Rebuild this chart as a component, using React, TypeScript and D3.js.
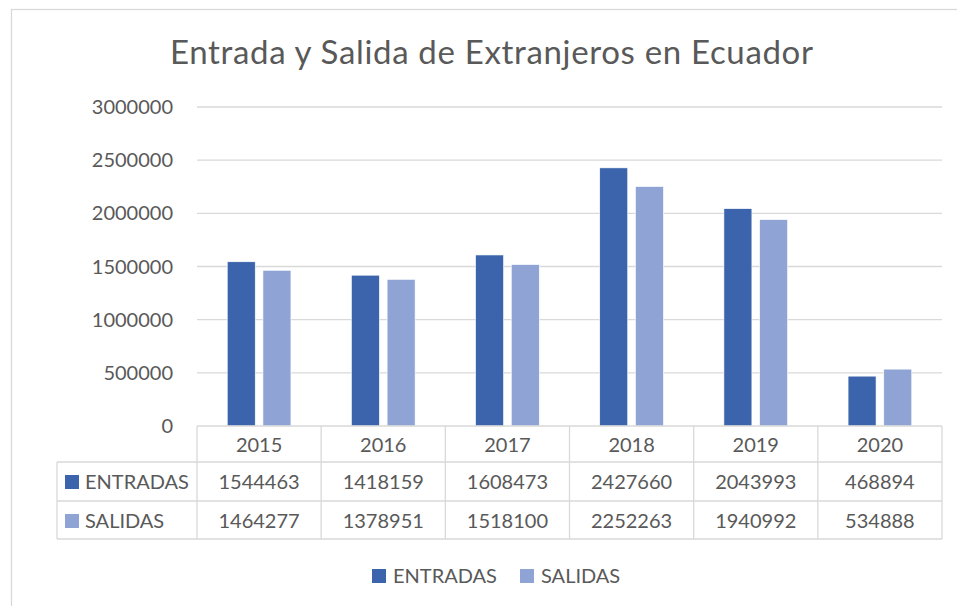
import React from 'react';
import { scaleBand, scaleLinear } from 'd3';

const years = ['2015', '2016', '2017', '2018', '2019', '2020'];
const entradas = [1544463, 1418159, 1608473, 2427660, 2043993, 468894];
const salidas = [1464277, 1378951, 1518100, 2252263, 1940992, 534888];
const yTicks = [0, 500000, 1000000, 1500000, 2000000, 2500000, 3000000];

const series = [
  { name: 'ENTRADAS', values: entradas, color: '#3c64ac' },
  { name: 'SALIDAS', values: salidas, color: '#8fa4d5' },
];

const W = 957;
const H = 606;
const FONT = 'Lato, "Noto Sans", sans-serif';
const TXT = '#595959';
const GRID = '#d9d9d9';

// plot area
const left = 197;
const right = 942;
const top = 107;
const bottom = 426;
// table rows
const rowH = [426, 462, 501, 539];
const tableLeft = 57;

export default function App() {
  const x = scaleBand().domain(years).range([left, right]);
  const y = scaleLinear().domain([0, 3000000]).range([bottom, top]);
  const cw = x.bandwidth();
  const inner = scaleBand()
    .domain(series.map(s => s.name))
    .range([cw / 2 - 31.85, cw / 2 + 31.85])
    .paddingInner(0.216);

  return (
    <svg width={W} height={H} style={{ position: 'absolute', left: 0, top: 0, background: '#fff' }}
      fontFamily={FONT}>
      {/* bits of the document text above, cut off */}
      <text x={24} y={-4} fontSize={22} fill="#000">y</text>
      <text x={240} y={-4} fontSize={22} fill="#000">y</text>

      {/* chart border */}
      <rect x={11.5} y={9.5} width={W} height={H} fill="#fff" stroke={GRID} strokeWidth={1.3} />

      <text x={491.5} y={64} textAnchor="middle" fontSize={33} fill={TXT}
        textLength={643} lengthAdjust="spacing">
        Entrada y Salida de Extranjeros en Ecuador
      </text>

      {/* gridlines and y labels */}
      {yTicks.map(t => (
        <g key={t}>
          {t > 0 && <line x1={left} x2={right} y1={y(t)} y2={y(t)} stroke={GRID} strokeWidth={1.3} />}
          <text x={173} y={y(t)} dy="0.35em" textAnchor="end" fontSize={20} fill={TXT}>{t}</text>
        </g>
      ))}

      {/* bars */}
      {series.map(s => (
        <g key={s.name}>
          {years.map((yr, i) => (
            <rect key={yr}
              x={(x(yr) as number) + (inner(s.name) as number)}
              y={y(s.values[i])}
              width={inner.bandwidth()}
              height={bottom - y(s.values[i])}
              fill={s.color}
              stroke="#fff" strokeWidth={0.6} />
          ))}
        </g>
      ))}

      {/* data table */}
      <g stroke={GRID} strokeWidth={1.3}>
        <line x1={left} x2={right} y1={rowH[0]} y2={rowH[0]} />
        {rowH.slice(1).map(r => <line key={r} x1={tableLeft} x2={right} y1={r} y2={r} />)}
        <line x1={tableLeft} x2={tableLeft} y1={rowH[1]} y2={rowH[3]} />
        {[...years.map(yr => x(yr) as number), right].map(v => (
          <line key={v} x1={v} x2={v} y1={rowH[0]} y2={rowH[3]} />
        ))}
      </g>
      {years.map(yr => (
        <text key={yr} x={(x(yr) as number) + cw / 2} y={452} textAnchor="middle" fontSize={20} fill={TXT}>{yr}</text>
      ))}
      {series.map((s, j) => {
        const base = j === 0 ? 489 : 528;
        return (
          <g key={s.name}>
            <rect x={65} y={base - 14} width={14} height={14} fill={s.color} />
            <text x={85} y={base} fontSize={20} fill={TXT}>{s.name}</text>
            {years.map((yr, i) => (
              <text key={yr} x={(x(yr) as number) + cw / 2} y={base} textAnchor="middle" fontSize={20} fill={TXT}>
                {s.values[i]}
              </text>
            ))}
          </g>
        );
      })}

      {/* legend */}
      {series.map((s, j) => {
        const lx = j === 0 ? 372 : 520;
        return (
          <g key={s.name}>
            <rect x={lx} y={569} width={14} height={14} fill={s.color} />
            <text x={lx + 21} y={583} fontSize={20} fill={TXT}>{s.name}</text>
          </g>
        );
      })}
    </svg>
  );
}
